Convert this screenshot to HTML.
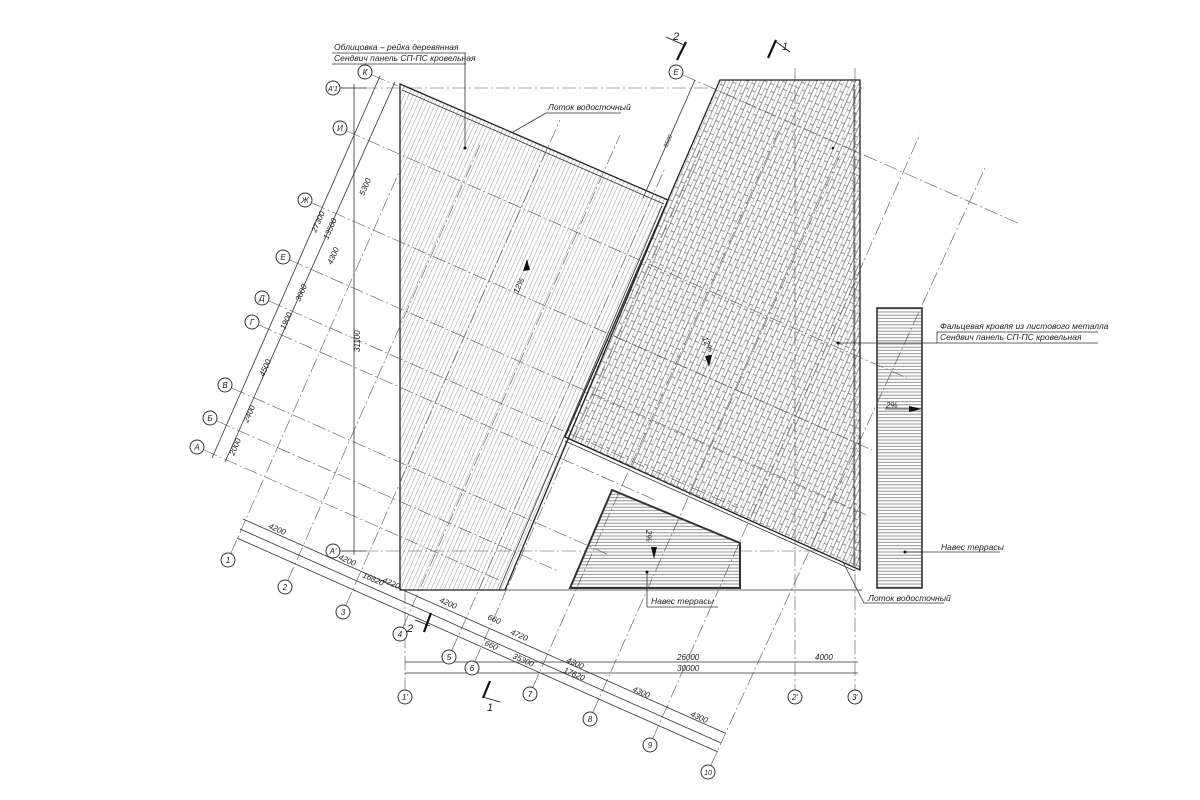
<!DOCTYPE html>
<html><head><meta charset="utf-8"><style>
html,body{margin:0;padding:0;background:#fff;width:1200px;height:800px;overflow:hidden}
svg{display:block}
text{font-family:"Liberation Sans","DejaVu Sans",sans-serif;fill:#222;font-style:italic}
.t{font-size:8.5px}
.d{font-size:8px}
.ax{fill:#fff;stroke:#333;stroke-width:1}
.al{stroke:#555;stroke-width:0.6;stroke-dasharray:14 3 2 3;fill:none}
.ln{stroke:#333;stroke-width:0.8;fill:none}
</style></head><body>
<svg width="1200" height="800" viewBox="0 0 1200 800" xmlns="http://www.w3.org/2000/svg">
<defs>
<pattern id="hv" width="4" height="20" patternUnits="userSpaceOnUse" patternTransform="rotate(-66.2) rotate(90)">
<line x1="0" y1="0" x2="0" y2="20" stroke="#555" stroke-width="0.6"/>
</pattern>
<pattern id="hh" width="20" height="3.2" patternUnits="userSpaceOnUse">
<rect width="20" height="3.2" fill="#fff"/>
<line x1="0" y1="1.6" x2="20" y2="1.6" stroke="#888" stroke-width="1"/>
</pattern>
<pattern id="br" width="14" height="7" patternUnits="userSpaceOnUse" patternTransform="rotate(-66.2)">
<rect width="14" height="7" fill="#fff"/>
<line x1="0" y1="0" x2="14" y2="0" stroke="#666" stroke-width="0.7"/>
<line x1="0" y1="3.5" x2="14" y2="3.5" stroke="#666" stroke-width="0.7"/>
<line x1="3.5" y1="0" x2="3.5" y2="3.5" stroke="#666" stroke-width="0.7"/>
<line x1="10.5" y1="3.5" x2="10.5" y2="7" stroke="#666" stroke-width="0.7"/>
</pattern>
</defs>
<rect width="1200" height="800" fill="#fff"/>

<line class="al" x1="342" y1="88" x2="862" y2="88"/>
<line class="al" x1="342" y1="551" x2="862" y2="551"/>
<line class="ln" x1="400" y1="590" x2="862" y2="590" stroke-width="0.6"/>

<polygon points="720,80 860,80 860,570 565,437" fill="url(#br)" stroke="#222" stroke-width="1.3"/>
<polygon points="400,84 668,200 505,590 400,590" fill="url(#hv)" stroke="#222" stroke-width="1.3"/>
<line class="ln" x1="402" y1="90" x2="664" y2="204"/>
<line class="ln" x1="662" y1="206" x2="499" y2="590"/>
<line class="ln" x1="565" y1="441" x2="855" y2="571"/>
<line class="ln" x1="854" y1="84" x2="854" y2="566" stroke="#999"/>

<polygon points="612,490 740,543 740,588 570,588" fill="url(#hh)" stroke="#333" stroke-width="2"/>
<rect x="877" y="308" width="45" height="280" fill="url(#hh)" stroke="#333" stroke-width="1.6"/>

<g class="al">
<line x1="204" y1="450" x2="499" y2="580"/>
<line x1="217" y1="421" x2="558" y2="571"/>
<line x1="232" y1="388" x2="609" y2="555"/>
<line x1="259" y1="325" x2="655" y2="500"/>
<line x1="269" y1="301" x2="738" y2="508"/>
<line x1="290" y1="260" x2="869" y2="516"/>
<line x1="312" y1="203" x2="872" y2="450"/>
<line x1="347" y1="131" x2="907" y2="378"/>
<line x1="683" y1="75" x2="1020" y2="224"/>
<line x1="372" y1="75" x2="398" y2="86"/>
</g>

<g class="al">
<line x1="231" y1="553" x2="400" y2="170"/>
<line x1="288" y1="580" x2="480" y2="145"/>
<line x1="346" y1="605" x2="560" y2="120"/>
<line x1="403" y1="627" x2="620" y2="135"/>
<line x1="452" y1="650" x2="665" y2="168"/>
<line x1="475" y1="661" x2="700" y2="150"/>
<line x1="533" y1="687" x2="780" y2="128"/>
<line x1="593" y1="712" x2="840" y2="155"/>
<line x1="653" y1="738" x2="920" y2="134"/>
<line x1="711" y1="765" x2="985" y2="168"/>
</g>

<g class="al">
<line x1="405" y1="590" x2="405" y2="690"/>
<line x1="795" y1="68" x2="795" y2="690"/>
<line x1="855" y1="68" x2="855" y2="690"/>
</g>

<g class="ln" stroke-width="0.7">
<line x1="212" y1="458" x2="380" y2="76"/>
<line x1="225" y1="462" x2="395" y2="82"/>
<line x1="354" y1="84" x2="354" y2="555"/>
<line x1="340" y1="88" x2="366" y2="88"/>
<line x1="340" y1="551" x2="366" y2="551"/>
</g>
<g class="d">
<text transform="translate(234,456) rotate(-66.2)">2000</text>
<text transform="translate(248,423) rotate(-66.2)">2400</text>
<text transform="translate(264,377) rotate(-66.2)">4500</text>
<text transform="translate(285,330) rotate(-66.2)">1900</text>
<text transform="translate(300,302) rotate(-66.2)">3000</text>
<text transform="translate(332,265) rotate(-66.2)">4300</text>
<text transform="translate(364,196) rotate(-66.2)">5300</text>
<text transform="translate(316,233) rotate(-66.2)">27300</text>
<text transform="translate(328,240) rotate(-66.2)">13500</text>
<text transform="translate(360,352) rotate(-90)">31100</text>
<text transform="translate(667,148) rotate(-66.2)" font-size="6">8500</text>
</g>
<line class="ln" x1="695" y1="80" x2="643" y2="198" stroke-width="0.7"/>

<g class="ln" stroke-width="0.7">
<line x1="243" y1="519" x2="725" y2="733"/>
<line x1="240" y1="529" x2="721" y2="743"/>
<line x1="237" y1="538" x2="718" y2="752"/>
<line x1="405" y1="662" x2="858" y2="662"/>
<line x1="405" y1="673" x2="858" y2="673"/>
</g>
<g class="d">
<text transform="translate(268,528) rotate(23.8)">4200</text>
<text transform="translate(338,559) rotate(23.8)">4200</text>
<text transform="translate(382,582) rotate(23.8)">4220</text>
<text transform="translate(362,577) rotate(23.8)">16820</text>
<text transform="translate(439,602) rotate(23.8)">4200</text>
<text transform="translate(487,619) rotate(23.8)">660</text>
<text transform="translate(510,634) rotate(23.8)">4720</text>
<text transform="translate(484,645) rotate(23.8)">660</text>
<text transform="translate(512,658) rotate(23.8)">35300</text>
<text transform="translate(566,662) rotate(23.8)">4300</text>
<text transform="translate(563,672) rotate(23.8)">17620</text>
<text transform="translate(632,691) rotate(23.8)">4300</text>
<text transform="translate(690,716) rotate(23.8)">4300</text>
<text x="677" y="660">26000</text>
<text x="677" y="671">30000</text>
<text x="815" y="660">4000</text>
</g>

<g font-size="8" text-anchor="middle">
<g class="ax">
<circle cx="197" cy="447" r="7"/><circle cx="210" cy="418" r="7"/><circle cx="225" cy="385" r="7"/>
<circle cx="252" cy="322" r="7"/><circle cx="262" cy="298" r="7"/><circle cx="283" cy="257" r="7"/>
<circle cx="305" cy="200" r="7"/><circle cx="340" cy="128" r="7"/><circle cx="365" cy="72" r="7"/>
<circle cx="333" cy="88" r="7"/><circle cx="333" cy="551" r="7"/><circle cx="676" cy="72" r="7"/>
<circle cx="228" cy="560" r="7"/><circle cx="285" cy="587" r="7"/><circle cx="343" cy="612" r="7"/>
<circle cx="400" cy="634" r="7"/><circle cx="449" cy="657" r="7"/><circle cx="472" cy="668" r="7"/>
<circle cx="530" cy="694" r="7"/><circle cx="590" cy="719" r="7"/><circle cx="650" cy="745" r="7"/>
<circle cx="708" cy="772" r="7"/>
<circle cx="405" cy="697" r="7"/><circle cx="795" cy="697" r="7"/><circle cx="855" cy="697" r="7"/>
</g>
<text x="197" y="450">А</text><text x="210" y="421">Б</text><text x="225" y="388">В</text>
<text x="252" y="325">Г</text><text x="262" y="301">Д</text><text x="283" y="260">Е</text>
<text x="305" y="203">Ж</text><text x="340" y="131">И</text><text x="365" y="75">К</text>
<text x="333" y="91" font-size="7">А'1</text><text x="333" y="554">А'</text><text x="676" y="75">Е</text>
<text x="228" y="563">1</text><text x="285" y="590">2</text><text x="343" y="615">3</text>
<text x="400" y="637">4</text><text x="449" y="660">5</text><text x="472" y="671">6</text>
<text x="530" y="697">7</text><text x="590" y="722">8</text><text x="650" y="748">9</text>
<text x="708" y="775" font-size="7">10</text>
<text x="405" y="700">1'</text><text x="795" y="700">2'</text><text x="855" y="700">3'</text>
</g>

<g stroke="#111" fill="none">
<line x1="686" y1="42" x2="677" y2="60" stroke-width="2.2"/><line x1="666" y1="37" x2="684" y2="45" stroke-width="0.8"/>
<line x1="776" y1="40" x2="768" y2="58" stroke-width="2.2"/><line x1="775" y1="41" x2="790" y2="52" stroke-width="0.8"/>
<line x1="431" y1="613" x2="424" y2="632" stroke-width="2.2"/><line x1="415" y1="620" x2="430" y2="626" stroke-width="0.8"/>
<line x1="490" y1="681" x2="483" y2="698" stroke-width="2.2"/><line x1="483" y1="697" x2="500" y2="702" stroke-width="0.8"/>
</g>
<g font-size="11" font-style="normal">
<text x="673" y="40">2</text><text x="782" y="50">1</text><text x="407" y="632">2</text><text x="487" y="711">1</text>
</g>

<g class="d" font-size="10">
<text transform="translate(518,294) rotate(-66.2)">12%</text>
<text transform="translate(702,338) rotate(66.2)">12%</text>
<text x="886" y="408">2%</text>
<text transform="translate(646,530) rotate(90)">2%</text>
</g>
<g fill="#111">
<polygon points="527,259 523,271 530,270"/>
<polygon points="709,367 705,356 712,355"/>
<polygon points="922,409 909,406 909,412"/>
<polygon points="654,559 651,547 657,547"/>
</g>
<line class="ln" x1="885" y1="409" x2="912" y2="409"/>

<g class="t">
<text x="334" y="50">Облицовка – рейка деревянная</text>
<text x="334" y="61">Сендвич панель СП-ПС кровельная</text>
<text x="548" y="110">Лоток водосточный</text>
<text x="940" y="329">Фальцевая кровля из листового металла</text>
<text x="940" y="340">Сендвич панель СП-ПС кровельная</text>
<text x="941" y="550">Навес террасы</text>
<text x="651" y="604">Навес террасы</text>
<text x="868" y="601">Лоток водосточный</text>
</g>
<g class="ln" stroke-width="0.8">
<line x1="332" y1="53" x2="466" y2="53"/><line x1="332" y1="64" x2="466" y2="64"/>
<line x1="465" y1="53" x2="465" y2="148"/>
<line x1="546" y1="113" x2="621" y2="113"/><line x1="546" y1="113" x2="513" y2="132"/>
<line x1="937" y1="332" x2="1098" y2="332"/><line x1="838" y1="343" x2="1098" y2="343"/>
<line x1="937" y1="332" x2="937" y2="343"/>
<line x1="905" y1="552" x2="1000" y2="552"/>
<line x1="647" y1="572" x2="647" y2="607"/><line x1="647" y1="607" x2="718" y2="607"/>
<line x1="843" y1="562" x2="864" y2="603"/><line x1="864" y1="603" x2="944" y2="603"/>
</g>
<g fill="#111">
<circle cx="465" cy="148" r="1.5"/><circle cx="838" cy="343" r="1.5"/><circle cx="905" cy="552" r="1.5"/>
<circle cx="647" cy="572" r="1.5"/><circle cx="833" cy="148" r="1.2"/>
</g>
</svg>
</body></html>
